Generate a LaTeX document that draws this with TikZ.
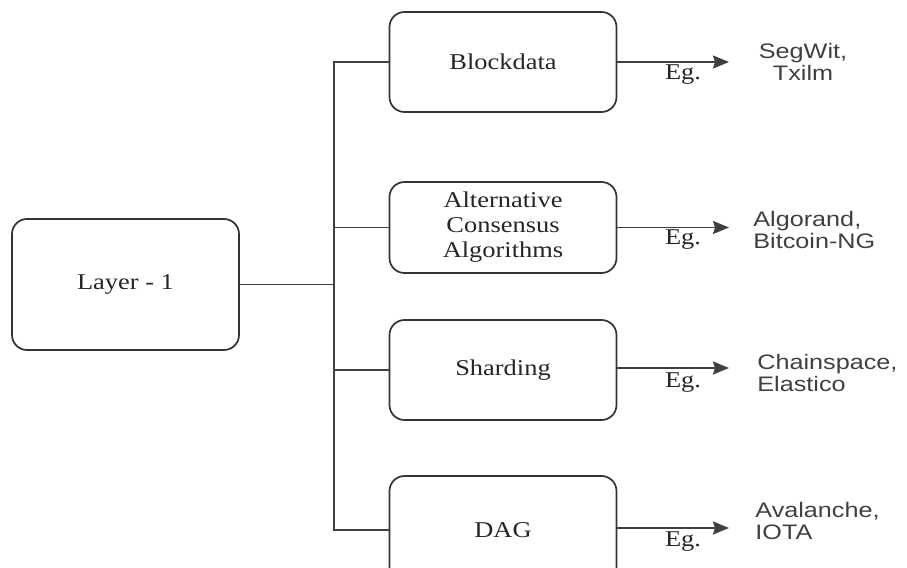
\documentclass[tikz,border=0pt]{standalone}
\usepackage{fontspec}
\setmainfont{Liberation Serif}
\newfontfamily\boxfont[FakeStretch=1.17]{Liberation Serif}
\newfontfamily\exfont[FakeStretch=1.2]{Liberation Sans}
\usetikzlibrary{arrows.meta}

\begin{document}
\begin{tikzpicture}[x=0.5pt,y=-0.5pt,
  blk/.style={draw=black!80, line width=0.85pt, rounded corners=7.5pt,
    minimum width=113.5pt, inner sep=0pt, align=center,
    font=\boxfont\fontsize{11.3}{12.5}\selectfont, text=black!85},
  conn/.style={draw=black!75, line width=0.85pt},
  arr/.style={conn, -{Stealth[length=8pt,width=6.5pt,inset=1pt]}},
  eglab/.style={inner sep=0pt, anchor=base, font=\boxfont\fontsize{11.3}{12.5}\selectfont, text=black!85},
  exlab/.style={inner sep=0pt, anchor=base west, align=left,
    font=\exfont\fontsize{10.5}{11}\selectfont, text=black!75},
]
\useasboundingbox (0,0) rectangle (907,568);
\begin{scope}
\clip (0,0) rectangle (907,568);

% main block and its four branches
\node[blk, minimum height=65.5pt] (L) at (125.5,284.5) {Layer - 1};
\node[blk, minimum height=50pt]   (B) at (503,62)    {Blockdata};
\node[blk, minimum height=45.5pt] (A) at (503,227.5) {Alternative\\Consensus\\Algorithms};
\node[blk, minimum height=50pt]   (S) at (503,370)   {Sharding};
\node[blk, minimum height=54pt]   (D) at (503,530)   {DAG};

% trunk joining the branches
\coordinate (j) at (334,284.5);
\draw[conn] (L.east) -- (j);
\draw[conn] (B.west) -- (B.west -| j) -- (D.west -| j) -- (D.west);
\draw[conn] (A.west) -- (A.west -| j);
\draw[conn] (S.west) -- (S.west -| j);

% example arrows
\coordinate (tB) at (729,62);
\coordinate (tA) at (729,227.5);
\coordinate (tS) at (729,368);
\coordinate (tD) at (729,528);
\draw[arr] (B.east) -- (tB);
\draw[arr] (A.east) -- (tA);
\draw[arr] (S.east |- tS) -- (tS);
\draw[arr] (D.east |- tD) -- (tD);

\node[eglab] (eB) at (683,79)  {Eg.};
\node[eglab] (eA) at (683,244) {Eg.};
\node[eglab] (eS) at (683,387) {Eg.};
\node[eglab] (eD) at (683,546) {Eg.};

% examples (anchored on the baseline of the second line)
\node[exlab, anchor=base, align=center] (xB) at (803,80) {SegWit,\\Txilm};
\node[exlab] (xA) at (753,248) {Algorand,\\Bitcoin-NG};
\node[exlab] (xS) at (757,391) {Chainspace,\\Elastico};
\node[exlab] (xD) at (755,539) {Avalanche,\\IOTA};
\end{scope}
\end{tikzpicture}
\end{document}
